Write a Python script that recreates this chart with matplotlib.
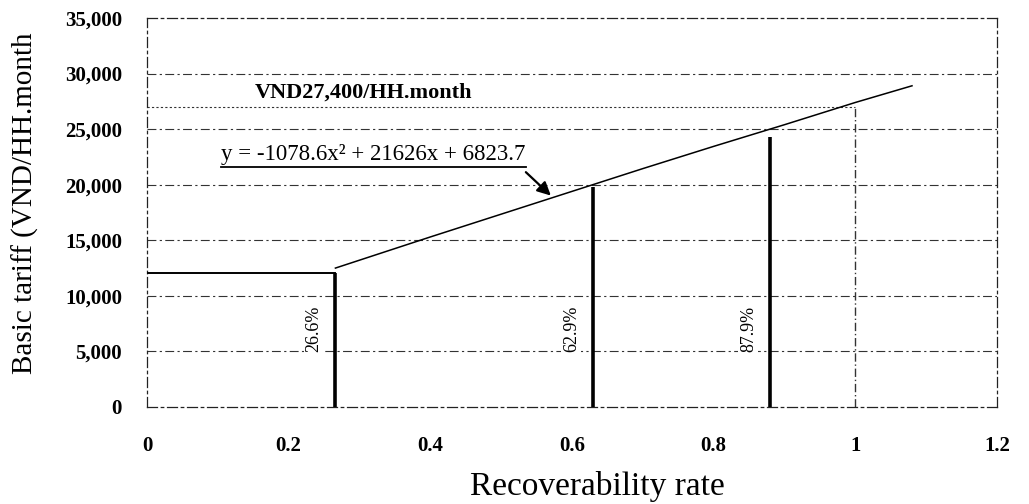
import matplotlib
matplotlib.use("Agg")
import matplotlib.pyplot as plt

# ---- data ----
curve_x = [0.266, 0.4, 0.5, 0.6, 0.7, 0.8, 0.9, 1.0, 1.08]
curve_y = [12500, 15300, 17350, 19400, 21450, 23450, 25400, 27400, 28900]

bar_x = [0.266, 0.629, 0.879]
bar_top = [12100, 19800, 24300]
bar_labels = ["26.6%", "62.9%", "87.9%"]

target_x = 1.0
target_y = 27000
target_label = "VND27,400/HH.month"
equation = "y = -1078.6x² + 21626x + 6823.7"

xticks = [0, 0.2, 0.4, 0.6, 0.8, 1.0, 1.2]
xtick_labels = ["0", "0.2", "0.4", "0.6", "0.8", "1", "1.2"]
yticks = [0, 5000, 10000, 15000, 20000, 25000, 30000, 35000]
ytick_labels = ["0", "5,000", "10,000", "15,000", "20,000", "25,000", "30,000", "35,000"]

serif = ["Liberation Serif", "DejaVu Serif"]

fig = plt.figure(figsize=(10.29, 5.04), dpi=100)
ax = fig.add_axes([147 / 1029, 97 / 504, 850 / 1029, 389 / 504])
ax.set_xlim(0, 1.2)
ax.set_ylim(0, 35000)

# grid lines
for yv in yticks[1:-1]:
    ax.axhline(yv, color="#333333", lw=0.8, ls=(0, (8, 3, 2, 3)), zorder=1)
for side in ["left", "right", "top", "bottom"]:
    ax.spines[side].set_linestyle((0, (8, 3, 2, 3)))
    ax.spines[side].set_linewidth(0.9)
    ax.spines[side].set_color("#222222")

ax.set_xticks(xticks)
ax.set_xticklabels(xtick_labels, fontfamily=serif, fontweight="bold", fontsize=15)
ax.set_yticks(yticks)
ax.set_yticklabels(ytick_labels, fontfamily=serif, fontweight="bold", fontsize=15)
ax.tick_params(axis="both", length=0)
ax.tick_params(axis="y", pad=18)
ax.tick_params(axis="x", pad=21)

# curve
ax.plot(curve_x, curve_y, color="black", lw=1.1, zorder=3)

# horizontal line from y axis to first bar
ax.plot([0, bar_x[0]], [bar_top[0], bar_top[0]], color="black", lw=1.4, zorder=3)

# bars
for bx, bt, bl in zip(bar_x, bar_top, bar_labels):
    ax.plot([bx, bx], [0, bt], color="black", lw=2.6, zorder=4, solid_capstyle="butt")
    ax.text(bx - 0.03, 7000, bl, rotation=90, ha="center", va="center",
            fontfamily=serif, fontsize=13,
            bbox=dict(facecolor="white", edgecolor="none", pad=1))

# target reference lines
ax.plot([0, target_x], [target_y, target_y], color="#333333", lw=0.8, ls=(0, (2, 2)), zorder=2)
ax.plot([target_x, target_x], [0, target_y], color="#333333", lw=1.0, ls=(0, (6, 2, 1, 2)), zorder=2)

ax.text(0.305, 28250, target_label, ha="center", va="center",
        fontfamily=serif, fontweight="bold", fontsize=16)

eq = ax.text(0.32, 22750, equation, ha="center", va="center",
             fontfamily=serif, fontsize=16.5)
fig.canvas.draw()
bb = eq.get_window_extent().transformed(ax.transData.inverted())
ax.plot([bb.x0, bb.x1], [bb.y0 - 250, bb.y0 - 250], color="black", lw=1.3)

ax.annotate("", xy=(0.573, 18850), xytext=(0.532, 21300),
            arrowprops=dict(arrowstyle="-|>", color="black", lw=1.6,
                            mutation_scale=20))

fig.text(25 / 1029, 1 - 203 / 504, "Basic tariff (VND/HH.month", rotation=90,
         ha="center", va="center", fontfamily=serif, fontsize=21)
fig.text(597 / 1029, 1 - 487 / 504, "Recoverability rate",
         ha="center", va="center", fontfamily=serif, fontsize=24)

fig.savefig("out.png", dpi=100)
